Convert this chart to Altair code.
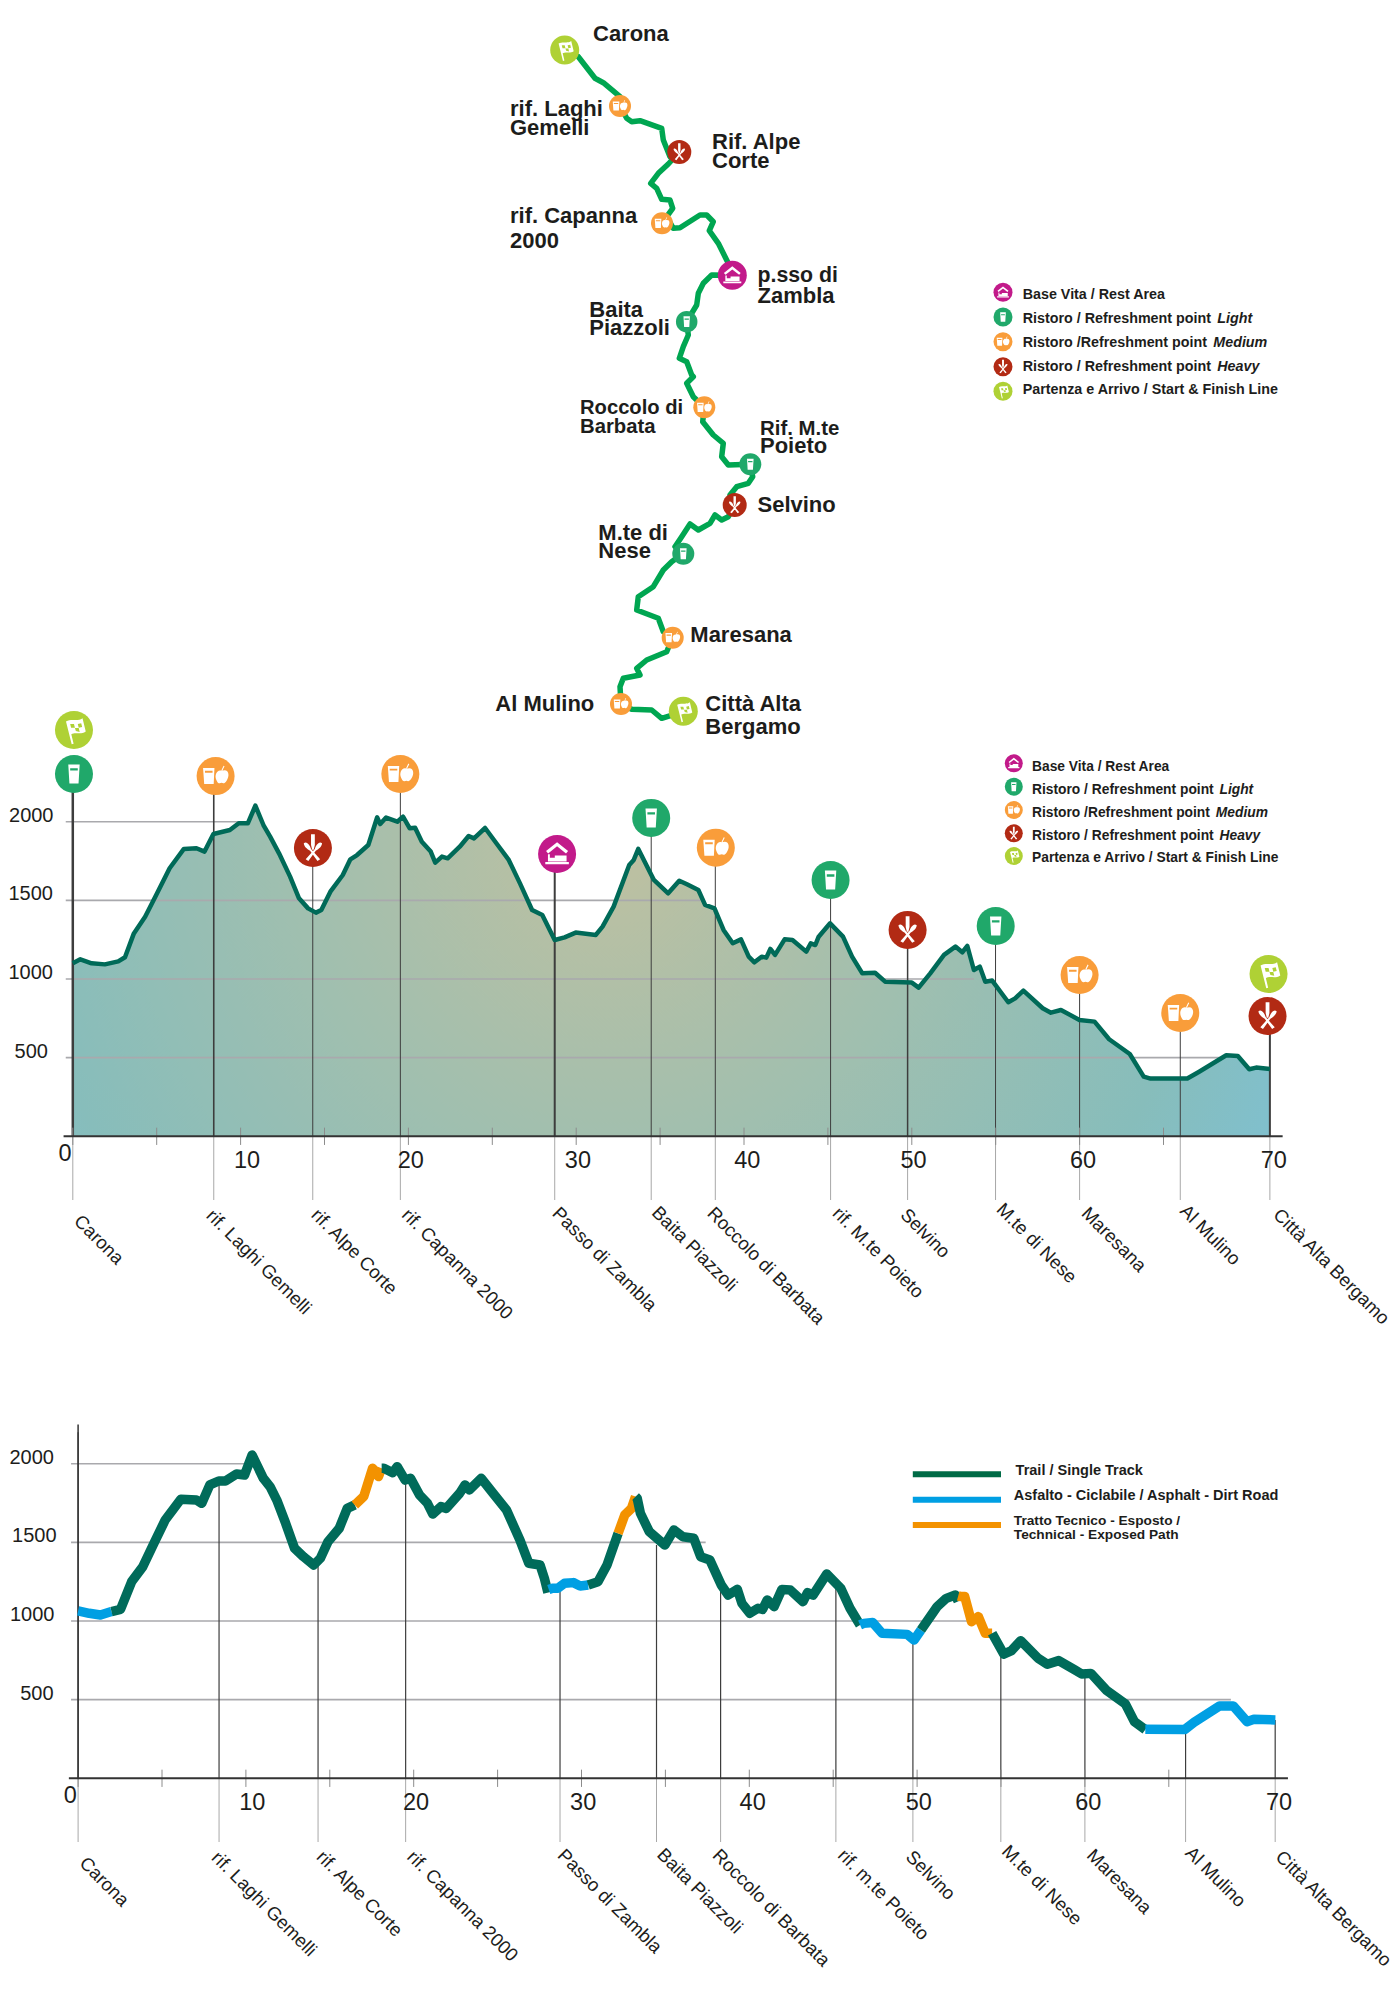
import altair as alt
import pandas as pd

FONT = "Liberation Sans"
INK = "#1d1d1b"
COL = {"flag": "#afd135", "light": "#20a86a", "medium": "#f99d3a", "heavy": "#b22a14", "rest": "#c21a8a"}
ICON = {
    "light": "M-0.3,-0.5 L0.3,-0.5 L0.24,0.5 L-0.24,0.5 Z M-0.2,-0.3 L-0.2,-0.18 L0.2,-0.18 L0.2,-0.3 Z",
    "medium": "M-0.66,-0.42 L-0.06,-0.42 L-0.1,0.42 L-0.6,0.42 Z M-0.56,-0.28 L-0.56,-0.18 L-0.16,-0.18 L-0.16,-0.28 Z "
              "M0.32,-0.28 C0.72,-0.42 0.75,0 0.58,0.24 C0.47,0.42 0.38,0.38 0.32,0.35 C0.22,0.38 0.12,0.42 0.04,0.2 "
              "C-0.08,-0.05 0.08,-0.38 0.32,-0.28 Z M0.3,-0.3 L0.42,-0.55 L0.47,-0.52 L0.35,-0.28 Z",
    "heavy": "M-0.48,-0.25 C-0.3,-0.38 -0.15,-0.1 -0.1,0.05 L0.38,0.6 L0.24,0.68 L-0.15,0.15 C-0.32,0.05 -0.48,-0.1 -0.48,-0.25 Z "
             "M0.48,-0.25 C0.48,-0.1 0.32,0.05 0.15,0.15 L-0.24,0.68 L-0.38,0.6 L0.1,0.05 C0.15,-0.1 0.3,-0.38 0.48,-0.25 Z "
             "M-0.1,-0.72 L0.1,-0.72 L0.1,-0.15 L0.04,0.1 L-0.04,0.1 L-0.1,-0.15 Z",
    "rest": "M-0.58,-0.15 L0,-0.62 L0.58,-0.15 L0.47,-0.03 L0,-0.4 L-0.47,-0.03 Z "
            "M-0.48,0.02 L-0.38,0.02 L-0.38,0.2 L-0.12,0.2 L-0.12,0.08 L0.5,0.08 L0.5,0.4 L-0.48,0.4 Z "
            "M-0.62,0.42 L0.62,0.42 L0.62,0.54 L-0.62,0.54 Z",
    "flag": "M-0.42,-0.45 L-0.12,0.75 L-0.02,0.72 L-0.14,0.22 C0.1,0.08 0.32,0.28 0.62,0.08 L0.45,-0.62 C0.2,-0.42 -0.12,-0.62 -0.42,-0.45 Z "
            "M-0.2,-0.32 L0.0,-0.32 L0.05,-0.12 L-0.15,-0.12 Z M0.2,-0.32 L0.38,-0.36 L0.43,-0.16 L0.25,-0.12 Z "
            "M0.05,-0.1 L0.25,-0.1 L0.3,0.1 L0.1,0.05 Z",
}

# ---- route map (sheet coordinates)
route_x = [578.3,595,603.3,620,620,626.7,631.7,640,661.7,663.3,670,679.3,668.3,658.3,650.7,656.7,661.7,670,672.7,666.7,673.3,680,700,706.7,713.3,709.3,718.3,730,732.7,711.7,703.3,698.3,696.7,686.7,688.3,683.3,679.3,686.7,691.7,693.3,686.7,693.3,704.3,702.7,713.3,723.3,721.7,728.3,750,752.7,748.3,736.7,730,735,728.3,721.7,715,710,698.3,690,681.7,675,683.3,671.7,663.3,653.3,638.3,636.7,658.3,663.3,672.7,666.7,646.7,636.7,640,623.3,620,621,631.7,651.7,661.7,683.3]
route_y = [56.7,78.3,82.7,96.7,106,118.3,121.7,120.7,128.3,140,156.7,152,164,173.3,183.3,188.3,199.3,200,208.3,216.7,228.3,227.7,215,215,221.7,230.7,243.3,266.7,275.3,275,283.3,293.3,305,321.7,335,346.7,358.3,361.7,375,376.7,383.3,396.7,407.3,421.7,435,443.3,456.7,465,464.3,476.7,483.3,486.7,495,505,516.7,520,515,523.3,530,524,536.7,546.7,553.3,561.7,570,586.7,596.7,610,618.3,631.7,637.3,651.7,660,668.3,675,678.3,686.7,704,709.3,710,718.3,711.7]

map_pin_x = [564.7,620,679.3,662,732.3,686.7,704.3,750.3,734.7,683.3,672.7,621,683.3]
map_pin_y = [50,106,152,223.3,275.3,321.7,407.3,464.3,505,553.7,637.7,704,711.3]
map_pin_d = [29,22,24,22,29,21.5,22,22,24,22,22,22,29]
map_pin_k = ["flag","medium","heavy","medium","rest","light","medium","light","heavy","light","medium","medium","flag"]

map_txt = ["Carona","rif. Laghi","Gemelli","Rif. Alpe","Corte","rif. Capanna","2000","p.sso di","Zambla","Baita","Piazzoli","Roccolo di","Barbata","Rif. M.te","Poieto","Selvino","M.te di","Nese","Maresana","Al Mulino","Città Alta","Bergamo"]
map_txt_x = [593,510,510,712,712,510,510,757.5,757.5,589.3,589.3,580,580,760,760,757.5,598.3,598.3,690.3,495.3,705.3,705.3]
map_txt_y = [40.7,115.7,135,149,167.7,223.3,247.7,282.3,303.3,316.7,335,414,432.7,435,453.3,511.7,540,558.3,642.3,710.7,710.7,734]
map_txt_fs = [22,22,22,22,22,22,22,21.3,22,22,22,20.2,20.3,20.4,22,22,22,22,22,22,22,22]

# ---- elevation profile, upper chart
top_km = [0,.45,1.12,1.91,2.71,3.11,3.64,4.31,4.97,5.77,6.62,7.37,7.85,8.38,9.36,9.89,10.43,10.88,11.36,11.76,12.29,12.95,13.48,14.02,14.49,14.81,15.35,16.09,16.54,16.94,17.61,18.14,18.32,18.67,19.34,19.68,20.08,20.4,20.8,21.33,21.6,22.0,22.34,23.06,23.59,23.91,24.57,25.32,25.98,26.65,27.37,27.98,28.72,29.31,29.97,31.17,31.57,32.23,33.16,33.43,33.7,34.63,35.48,36.14,36.6,37.28,37.68,38.24,38.78,39.33,39.82,40.28,40.62,41.05,41.33,41.57,41.85,42.42,42.89,43.71,43.98,44.25,44.45,45.13,45.9,46.44,47.05,47.81,48.41,50.0,50.41,51.1,51.92,52.6,53.01,53.31,53.7,54.05,54.38,54.79,55.75,56.16,56.65,57.8,58.29,58.89,59.99,60.89,61.76,62.99,63.82,64.23,66.42,67.1,68.74,69.43,70.11,70.52,71.34]
top_ele = [1100,1125,1100,1093,1112,1138,1290,1396,1534,1704,1827,1831,1810,1922,1947,1990,1990,2102,1979,1905,1799,1651,1513,1449,1422,1439,1555,1661,1761,1788,1852,2028,1985,2026,2000,2032,1958,1962,1873,1810,1740,1778,1767,1841,1909,1894,1960,1852,1757,1608,1439,1407,1248,1265,1295,1280,1333,1460,1725,1757,1827,1630,1545,1625,1602,1566,1471,1449,1312,1227,1252,1142,1106,1142,1136,1191,1153,1252,1248,1174,1227,1216,1269,1354,1269,1142,1036,1040,983,977,945,1036,1153,1206,1170,1210,1057,1079,983,990,852,877,926,814,786,803,740,729,617,523,379,367,367,409,515,511,426,437,428]

# ---- elevation profile, lower chart, by surface
segments = [
 ("asphalt",[0,.66,1.33,1.99],[1064,1049,1038,1060]),
 ("trail",[1.99,2.53,3.19,3.86,4.52,5.19,6.12,7.05,7.37,7.85,8.38,8.78,9.44,9.92,10.37,11.04,11.44,11.84,12.37,12.9,13.43,14.04,14.44,14.89,15.56,16.04,16.49],
          [1060,1074,1250,1346,1494,1642,1774,1769,1748,1865,1890,1890,1935,1928,2055,1907,1854,1769,1621,1462,1409,1356,1399,1504,1589,1716,1738]),
 ("technical",[16.49,17.02,17.55,17.9,18.09],[1738,1791,1971,1918,1971]),
 ("trail",[18.09,18.22,18.75,19.02,19.49,19.81,20.35,20.82,21.14,21.62,21.94,22.74,23.06,23.32,24.02,24.73,25.53,26.33,26.86,27.53,27.79,28.0],
          [1971,1971,1943,1981,1896,1907,1801,1748,1680,1727,1716,1812,1865,1833,1907,1812,1706,1515,1367,1356,1271,1180]),
 ("asphalt",[28.05,28.27,28.59,28.99,29.52,29.92,30.4],[1200,1208,1208,1240,1244,1223,1229]),
 ("trail",[30.4,30.98,31.52,32.18],[1229,1250,1356,1557]),
 ("technical",[32.18,32.58,32.98,33.22],[1557,1674,1716,1791]),
 ("trail",[33.22,33.32,33.51,34.04,34.97,35.51,36.04,36.69,37.1,37.65,38.33,38.74,39.29,39.56,40.03,40.52,40.79,41.07,41.48,41.94,42.44,43.2,43.47,43.8,44.62,45.45,46.0,46.6],
          [1791,1780,1685,1568,1483,1579,1536,1526,1409,1388,1229,1165,1201,1112,1049,1081,1074,1134,1091,1201,1197,1123,1180,1165,1299,1208,1081,975]),
 ("asphalt",[46.6,46.81,47.36,47.91,49.41,49.82,50.23],[975,985,990,922,915,879,943]),
 ("trail",[50.23,51.19,51.74,52.28,52.45],[943,1091,1144,1165,1125]),
 ("technical",[52.45,52.62,52.84,53.24,53.65,54.06,54.47],[1160,1155,1155,996,1028,922,922]),
 ("trail",[54.47,55.16,55.63,56.17,57.21,57.76,58.44,59.4,59.81,60.36,61.31,62.41,62.95,63.6],
          [922,790,812,875,763,725,748,689,663,667,557,473,360,310]),
 ("asphalt",[63.6,65.96,66.51,68.02,68.84,69.66,70.07,71.35],[312,311,356,460,460,360,375,371]),
]
SURF = ["trail","asphalt","technical"]
SURF_COL = ["#006b5a","#009fe3","#f39200"]

# ---- stations
st_km = [0,8.4,14.3,19.52,28.72,34.47,38.29,45.16,49.75,54.99,60.0,66.0,71.34]
st_top_w = [2.5,1.6,1,1,2,1,1,1,1.5,1,1,1,2]
st_top_ele = [2303,2290,1833,2303,1795,2024,1835,1629,1312,1337,1025,784,765]
st_low_ele = [2200,1890,1356,1896,1208,1483,1229,1208,879,790,663,311,371]
pin_km = [0.07,0.07,8.51,14.31,19.52,28.86,34.47,38.32,45.16,49.75,55.0,60.0,66.0,71.26,71.2]
pin_ele = [2583,2303,2290,1833,2303,1795,2024,1835,1629,1312,1337,1025,784,1032,765]
pin_k = ["flag","light","medium","heavy","medium","rest","light","medium","light","heavy","light","medium","medium","flag","heavy"]

st_names_top = ["Carona","rif. Laghi Gemelli","rif. Alpe Corte","rif. Capanna 2000","Passo di Zambla","Baita Piazzoli","Roccolo di Barbata","rif. M.te Poieto","Selvino","M.te di Nese","Maresana","Al Mulino","Città Alta Bergamo"]
st_names_low = ["Carona","rif. Laghi Gemelli","rif. Alpe Corte","rif. Capanna 2000","Passo di Zambla","Baita Piazzoli","Roccolo di Barbata","rif. m.te Poieto","Selvino","M.te di Nese","Maresana","Al Mulino","Città Alta Bergamo"]
st_lab_km_top = [0.27,8.15,14.4,19.8,28.77,34.7,38.0,45.47,49.52,55.24,60.3,66.18,71.74]
st_lab_km_low = [0.27,8.15,14.4,19.8,28.77,34.7,38.0,45.47,49.52,55.24,60.3,66.18,71.55]
st_lab_drop = [-520,-485,-480,-480,-470,-465,-470,-470,-480,-445,-470,-455,-480]

tick_km = [0,5,10,15,20,25,30,35,40,45,50,55,60,65]
xlab = ["0","10","20","30","40","50","60","70"]
xlab_km = [-0.47,10.38,20.14,30.1,40.2,50.1,60.2,71.57]
xlab_ele = [-158,-202,-202,-202,-202,-202,-202,-202]
ylab = [500,1000,1500,2000]
ylab_km_top = [-1.48,-1.18,-1.18,-1.15]
ylab_km_low = [-1.46,-1.41,-1.28,-1.44]
grid_end = [68.7,53.7,37.4,10.4]

# ---- legends
leg1 = ["Base Vita / Rest Area","Ristoro / Refreshment point","Ristoro /Refreshment point","Ristoro / Refreshment point","Partenza e Arrivo / Start & Finish Line"]
leg1_it = ["","Light","Medium","Heavy",""]
leg1_k = ["rest","light","medium","heavy","flag"]
leg_a_cy = [292.3,317,341.7,366.7,391.3]
leg_a_ty = [299.3,323.3,347.3,371,394.2]
leg_a_ix = [0,1217.3,1213.3,1217.3,0]
leg_b_cy = [763.3,786.7,810,833.3,856]
leg_b_ty = [771,794,817,840,862]
leg_b_ix = [0,1219.5,1215.8,1219.5,0]

leg3_lines = ["trail","asphalt","technical"]
leg3_y = [1474.3,1499.7,1525]
leg3_txt = ["Trail / Single Track","Asfalto - Ciclabile / Asphalt - Dirt Road","Tratto Tecnico - Esposto /","Technical - Exposed Path"]
leg3_tx = [1015.6,1013.8,1013.8,1013.8]
leg3_ty = [1475,1500,1525,1539]
leg3_fs = [14.5,14.5,13.7,13.7]

# ---- scales
def sx(f="x"):
    return alt.X(f"{f}:Q", scale=alt.Scale(domain=[0,1400], range=[-8,1392]), axis=None)
def sy(f="y"):
    return alt.Y(f"{f}:Q", scale=alt.Scale(domain=[0,2000], range=[-8,1992]), axis=None)
def kx(x0, f="km"):
    return alt.X(f"{f}:Q", scale=alt.Scale(domain=[0,70], range=[x0-8, x0-8+1174.6]), axis=None)
def ey(y0, f="ele"):
    return alt.Y(f"{f}:Q", scale=alt.Scale(domain=[0,2000], range=[y0-8, y0-8-314.6]), axis=None)

def dots(df, X, Y):
    df = df.copy()
    df["fill"] = df["k"].map(COL)
    df["icon"] = df["k"].map(ICON)
    df["size"] = df["d"]**2
    c = alt.Chart(df).mark_point(filled=True, opacity=1, shape="circle", strokeWidth=0).encode(
        x=X, y=Y,
        color=alt.Color("fill:N", scale=None, legend=None),
        size=alt.Size("size:Q", scale=None, legend=None))
    i = alt.Chart(df).mark_point(filled=True, opacity=1, color="white", strokeWidth=0).encode(
        x=X, y=Y,
        shape=alt.Shape("icon:N", scale=None, legend=None),
        size=alt.Size("size:Q", scale=None, legend=None))
    return [c, i]

def text(df, size, **kw):
    opts = dict(align="left", baseline="alphabetic", font=FONT, fontSize=size, color=INK)
    opts.update(kw)
    enc = dict(x=sx(), y=sy(), text="t:N")
    if "fs" in df.columns:
        enc["size"] = alt.Size("fs:Q", scale=None, legend=None)
    return alt.Chart(df).mark_text(**opts).encode(**enc)

layers = []

# route map
layers.append(alt.Chart(pd.DataFrame({"x":route_x,"y":route_y,"i":range(len(route_x))}))
    .mark_line(color="#00a651", strokeWidth=5.5, strokeJoin="round", strokeCap="round")
    .encode(x=sx(), y=sy(), order="i:Q"))
layers += dots(pd.DataFrame({"x":map_pin_x,"y":map_pin_y,"d":map_pin_d,"k":map_pin_k}), sx(), sy())
layers.append(text(pd.DataFrame({"x":map_txt_x,"y":map_txt_y,"t":map_txt,"fs":map_txt_fs}), 22, fontWeight="bold"))

def legend(cy, ty, ix, cx, tx, d, fs):
    out = dots(pd.DataFrame({"x":[cx]*5,"y":cy,"d":[d]*5,"k":leg1_k}), sx(), sy())
    out.append(text(pd.DataFrame({"x":[tx]*5,"y":ty,"t":leg1}), fs, fontWeight="bold"))
    it = pd.DataFrame({"x":ix,"y":ty,"t":leg1_it})
    it = it[it.t != ""]
    out.append(text(it, fs, fontWeight="bold", fontStyle="italic"))
    return out

layers += legend(leg_a_cy, leg_a_ty, leg_a_ix, 1003, 1022.7, 19, 14.3)
layers += legend(leg_b_cy, leg_b_ty, leg_b_ix, 1013.8, 1032, 18, 13.8)

# upper chart
X1 = kx(72.8); Y1 = ey(1136.3)
area_fill = alt.RadialGradient(gradient="radial", x1=0.45, y1=0.39, r1=0, x2=0.45, y2=0.39, r2=0.62,
    stops=[alt.GradientStop(offset=0, color="#bfc0a0"), alt.GradientStop(offset=0.4, color="#a2bfae"),
           alt.GradientStop(offset=0.8, color="#87bdbb"), alt.GradientStop(offset=1, color="#7fc0d0")])
top = pd.DataFrame({"km":top_km,"ele":top_ele})
layers.append(alt.Chart(top).mark_area(color=area_fill, opacity=1).encode(x=X1, y=Y1))

def chart_parts(X, Y, stem_ele, widths, names, name_km, ylab_km):
    parts = []
    gr = pd.DataFrame({"ele":ylab,"km":[-0.42]*4,"km2":grid_end})
    parts.append(alt.Chart(gr).mark_rule(color="#a9a9ad", strokeWidth=1.6).encode(x=X, x2="km2:Q", y=Y))
    st = pd.DataFrame({"km":st_km,"ele":stem_ele,"low":[0]*13,"w":widths})
    parts.append(alt.Chart(st).mark_rule(color="#3d3d3d").encode(x=X, y=Y, y2="low:Q",
        strokeWidth=alt.StrokeWidth("w:Q", scale=None, legend=None)))
    below = pd.DataFrame({"km":st_km,"ele":[0]*13,"low":[-405]*13})
    parts.append(alt.Chart(below).mark_rule(color="#a8a8a8", strokeWidth=1).encode(x=X, y=Y, y2="low:Q"))
    tk = pd.DataFrame({"km":tick_km,"ele":[55]*14,"low":[-55]*14})
    parts.append(alt.Chart(tk).mark_rule(color="#8c8c8c", strokeWidth=1).encode(x=X, y=Y, y2="low:Q"))
    base = pd.DataFrame({"km":[-0.55],"km2":[72.1],"ele":[0]})
    parts.append(alt.Chart(base).mark_rule(color="#333333", strokeWidth=2).encode(x=X, x2="km2:Q", y=Y))
    lab = pd.DataFrame({"km":xlab_km,"ele":xlab_ele,"t":xlab})
    parts.append(alt.Chart(lab).mark_text(align="center", baseline="alphabetic", font=FONT, fontSize=23.5, color=INK).encode(x=X, y=Y, text="t:N"))
    yl = pd.DataFrame({"km":ylab_km,"ele":ylab,"t":[str(v) for v in ylab]})
    parts.append(alt.Chart(yl).mark_text(align="right", baseline="alphabetic", font=FONT, fontSize=20, color=INK).encode(x=X, y=Y, text="t:N"))
    nm = pd.DataFrame({"km":name_km,"ele":st_lab_drop,"t":names})
    parts.append(alt.Chart(nm).mark_text(align="left", baseline="middle", font=FONT, fontSize=18.6, color=INK, angle=45).encode(x=X, y=Y, text="t:N"))
    return parts

layers += chart_parts(X1, Y1, st_top_ele, st_top_w, st_names_top, st_lab_km_top, ylab_km_top)
layers.append(alt.Chart(top).mark_line(color="#006a58", strokeWidth=4.5, strokeJoin="round").encode(x=X1, y=Y1))
layers += dots(pd.DataFrame({"km":pin_km,"ele":pin_ele,"d":[38]*15,"k":pin_k}), X1, Y1)

# lower chart
X2 = kx(78.1); Y2 = ey(1778.3)
layers += chart_parts(X2, Y2, st_low_ele, [1.2]*13, st_names_low, st_lab_km_low, ylab_km_low)
axis_y = pd.DataFrame({"km":[0],"ele":[2250],"low":[0]})
layers.append(alt.Chart(axis_y).mark_rule(color="#333333", strokeWidth=1.5).encode(x=X2, y=Y2, y2="low:Q"))
rows = []
for sid, (surf, kms, eles) in enumerate(segments):
    for i, (k, e) in enumerate(zip(kms, eles)):
        rows.append({"seg":sid,"surf":surf,"km":k,"ele":e,"i":i})
layers.append(alt.Chart(pd.DataFrame(rows)).mark_line(strokeWidth=9.5, strokeJoin="round", strokeCap="butt").encode(
    x=X2, y=Y2, detail="seg:N", order="i:Q",
    color=alt.Color("surf:N", scale=alt.Scale(domain=SURF, range=SURF_COL), legend=None)))

# surface legend
leg3 = pd.DataFrame({"x":[912.8]*3,"x2":[1001]*3,"y":leg3_y,"surf":leg3_lines})
layers.append(alt.Chart(leg3).mark_rule(strokeWidth=6).encode(x=sx(), x2="x2:Q", y=sy(),
    color=alt.Color("surf:N", scale=alt.Scale(domain=SURF, range=["#006b46","#009fe3","#f39200"]), legend=None)))
layers.append(text(pd.DataFrame({"x":leg3_tx,"y":leg3_ty,"t":leg3_txt,"fs":leg3_fs}), 14, fontWeight="bold"))

chart = (alt.layer(*layers)
    .resolve_scale(x="independent", y="independent", color="independent", size="independent", shape="independent", strokeWidth="independent")
    .properties(width=1384, height=1984, padding=0, autosize="none", background="white")
    .configure_view(stroke=None))
chart.save("out.html", embed_options={"renderer": "svg", "actions": False})
